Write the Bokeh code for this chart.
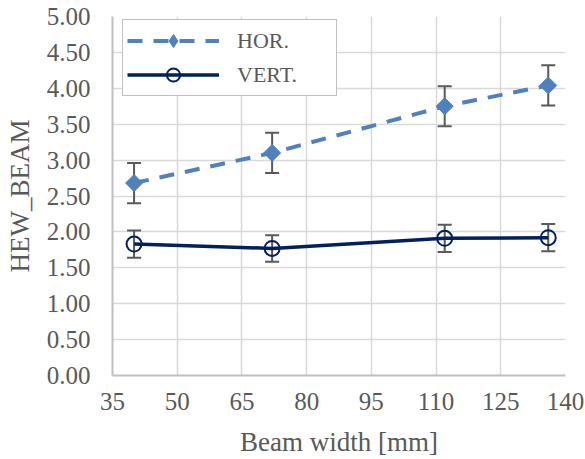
from bokeh.plotting import figure
from bokeh.models import (ColumnDataSource, Whisker, TeeHead, FixedTicker,
                          NumeralTickFormatter, Legend, LegendItem, Range1d)
from bokeh.embed import file_html
from bokeh.resources import INLINE
import numpy as np

# ---- data ----
beam_width = [40, 72, 112, 136]
hor_values = [2.68, 3.10, 3.75, 4.04]
hor_err = [0.28, 0.28, 0.28, 0.28]
vert_values = [1.83, 1.77, 1.91, 1.92]
vert_err = [0.19, 0.185, 0.19, 0.19]
x_ticks = [35, 50, 65, 80, 95, 110, 125, 140]
y_ticks = [0.0, 0.5, 1.0, 1.5, 2.0, 2.5, 3.0, 3.5, 4.0, 4.5, 5.0]
series_names = ["HOR.", "VERT."]
x_label = "Beam width [mm]"
y_label = "HEW_BEAM"

FONT = "Liberation Serif"
TXT = "#595959"
HOR_C = "#4f81bd"
VERT_C = "#002060"

p = figure(width=585, height=459, output_backend="svg", toolbar_location=None,
           x_range=Range1d(35, 140), y_range=Range1d(0, 5),
           min_border_left=112, min_border_right=20, min_border_top=16,
           min_border_bottom=82)
p.outline_line_color = None
p.background_fill_color = "white"

# axes
p.xaxis.ticker = FixedTicker(ticks=x_ticks)
p.yaxis.ticker = FixedTicker(ticks=y_ticks)
p.yaxis.formatter = NumeralTickFormatter(format="0.00")
for ax in (p.xaxis, p.yaxis):
    ax.axis_line_color = "#bfbfbf"
    ax.axis_line_width = 2
    ax.major_tick_line_color = None
    ax.minor_tick_line_color = None
    ax.major_tick_out = 0
    ax.major_tick_in = 0
    ax.major_label_text_font = FONT
    ax.major_label_text_font_size = "25px"
    ax.major_label_text_color = TXT
    ax.axis_label_text_font = FONT
    ax.axis_label_text_font_size = "27px"
    ax.axis_label_text_color = TXT
    ax.axis_label_text_font_style = "normal"
p.xaxis.axis_label = x_label
p.yaxis.axis_label = y_label
p.xaxis.major_label_standoff = 17
p.yaxis.major_label_standoff = 22
p.xaxis.axis_label_standoff = 14
p.yaxis.axis_label_standoff = 9

p.grid.grid_line_color = "#d9d9d9"
p.grid.grid_line_width = 1.5

# error bars
src_h = ColumnDataSource(dict(x=beam_width, y=hor_values,
                              upper=[v + e for v, e in zip(hor_values, hor_err)],
                              lower=[v - e for v, e in zip(hor_values, hor_err)]))
src_v = ColumnDataSource(dict(x=beam_width, y=vert_values,
                              upper=[v + e for v, e in zip(vert_values, vert_err)],
                              lower=[v - e for v, e in zip(vert_values, vert_err)]))
for src in (src_h, src_v):
    w = Whisker(source=src, base="x", upper="upper", lower="lower",
                line_color=TXT, line_width=2, level="underlay",
                upper_head=TeeHead(size=14, line_color=TXT, line_width=2),
                lower_head=TeeHead(size=14, line_color=TXT, line_width=2))
    p.add_layout(w)

# series
l1 = p.line("x", "y", source=src_h, line_color=HOR_C, line_width=4,
            line_dash="15 11")
m1 = p.scatter("x", "y", source=src_h, marker="square", size=12,
               angle=np.pi / 4, fill_color=HOR_C, line_color=HOR_C)
l2 = p.line("x", "y", source=src_v, line_color=VERT_C, line_width=3.5)
m2 = p.scatter("x", "y", source=src_v, marker="circle", size=15,
               fill_color=None, line_color=VERT_C, line_width=2)

# legend-only diamond glyph (not shown in plot), since legend markers are drawn unrotated
leg_src = ColumnDataSource(dict(x=[np.nan], y=[np.nan]))
m1_leg = p.scatter("x", "y", source=leg_src, marker="diamond", size=21,
                   fill_color=HOR_C, line_color=HOR_C)

legend = Legend(items=[LegendItem(label=series_names[0], renderers=[l1, m1_leg]),
                       LegendItem(label=series_names[1], renderers=[l2, m2])],
                location=(10, 279))
legend.border_line_color = "#808080"
legend.border_line_width = 1.5
legend.background_fill_color = "white"
legend.background_fill_alpha = 1
legend.padding = 4
legend.margin = 0
legend.spacing = 1
legend.glyph_width = 92
legend.glyph_height = 33
legend.label_standoff = 18
legend.label_width = 95
legend.label_text_font = FONT
legend.label_text_font_size = "22px"
legend.label_text_color = TXT
p.add_layout(legend)

open("out.html", "w").write(file_html(p, INLINE))
